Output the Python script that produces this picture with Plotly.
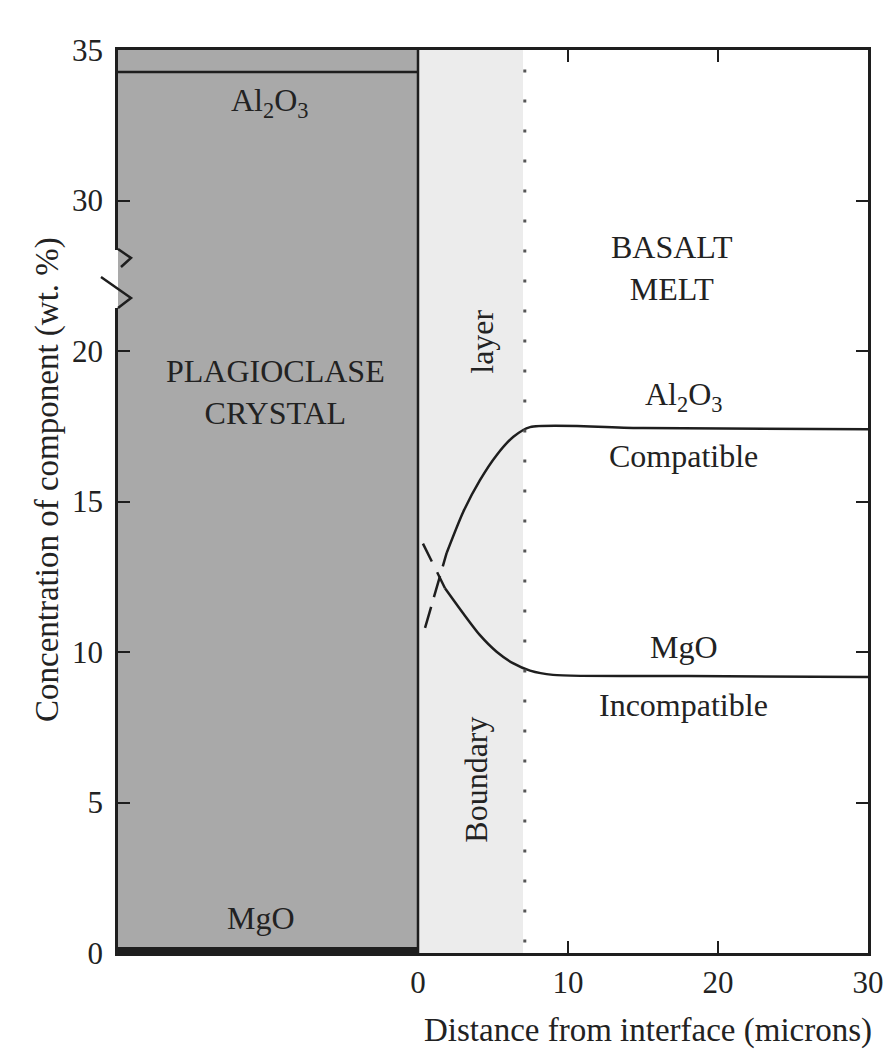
import plotly.graph_objects as go

# ---------------- data (real wt.% units) ----------------
x_tick_vals = [0, 10, 20, 30]
y_tick_real = [0, 5, 10, 15, 20, 30, 35]
y_tick_text = ["0", "5", "10", "15", "20", "30", "35"]

crystal_x = [-20, 0]
crystal_al2o3 = [34.27, 34.27]
crystal_mgo = [0.08, 0.08]

melt_al2o3_x = [1.91, 3.02, 4.13, 5.24, 6.36, 7.47, 15, 30]
melt_al2o3_y = [13.29, 14.66, 15.71, 16.54, 17.15, 17.47, 17.44, 17.4]
melt_mgo_x = [1.8, 3.02, 4.13, 5.24, 6.36, 7.47, 9.0, 18, 30]
melt_mgo_y = [12.12, 11.28, 10.56, 10.01, 9.62, 9.38, 9.24, 9.2, 9.17]

dash_al2o3_x = [0.47, 1.91]
dash_al2o3_y = [10.8, 13.29]
dash_mgo_x = [0.33, 1.8]
dash_mgo_y = [13.6, 12.12]

boundary_layer = [0, 7.0]
y_top = 35


# broken axis: values 20..30 are squeezed into 5 display units
def disp(v):
    return v if v <= 25 else v - 5


def dl(vals):
    return [disp(v) for v in vals]


FONT = "Liberation Serif"
INK = "#222222"
LINE = "#1e1e1e"
GRAY = "#a9a9a9"

fig = go.Figure()

# crystal and boundary-layer shading
fig.add_shape(type="rect", x0=crystal_x[0], x1=crystal_x[1], y0=0, y1=disp(y_top),
              fillcolor=GRAY, line_width=0, layer="below")
fig.add_shape(type="rect", x0=boundary_layer[0], x1=boundary_layer[1], y0=0, y1=disp(y_top),
              fillcolor="#ececec", line_width=0, layer="below")
# dotted edge of boundary layer
fig.add_shape(type="line", x0=boundary_layer[1] + 0.12, x1=boundary_layer[1] + 0.12,
              y0=0.35, y1=disp(y_top) - 0.3,
              line=dict(color="#555555", width=3, dash="3px,27px"))

# crystal composition lines
fig.add_trace(go.Scatter(x=crystal_x, y=dl(crystal_al2o3), mode="lines",
                         line=dict(color=LINE, width=2.5), showlegend=False))
fig.add_trace(go.Scatter(x=crystal_x, y=dl(crystal_mgo), mode="lines",
                         line=dict(color=LINE, width=7), showlegend=False))

# melt profiles
fig.add_trace(go.Scatter(x=melt_al2o3_x, y=dl(melt_al2o3_y), mode="lines",
                         line=dict(color=LINE, width=2.5, shape="spline", smoothing=0.7),
                         showlegend=False))
fig.add_trace(go.Scatter(x=melt_mgo_x, y=dl(melt_mgo_y), mode="lines",
                         line=dict(color=LINE, width=2.5, shape="spline", smoothing=0.7),
                         showlegend=False))
fig.add_trace(go.Scatter(x=dash_al2o3_x, y=dl(dash_al2o3_y), mode="lines",
                         line=dict(color=LINE, width=2.5, dash="22px,10px"), showlegend=False))
fig.add_trace(go.Scatter(x=dash_mgo_x, y=dl(dash_mgo_y), mode="lines",
                         line=dict(color=LINE, width=2.5, dash="20px,12px"), showlegend=False))

# interface line
fig.add_shape(type="line", x0=0, x1=0, y0=0, y1=disp(y_top),
              line=dict(color=LINE, width=2.5))

# ---- axis break on the left axis (paper coordinates from pixel layout) ----
L, R, T, B = 118, 868, 50, 953


def px(xp):
    return (xp - L) / (R - L)


def py(yp):
    return (B - yp) / (B - T)


fig.add_shape(type="rect", xref="paper", yref="paper", x0=px(112), x1=px(118),
              y0=py(308), y1=py(250), fillcolor="white", line_width=0, layer="above")
fig.add_shape(type="rect", xref="paper", yref="paper", x0=px(118), x1=px(124),
              y0=py(308), y1=py(250), fillcolor=GRAY, line_width=0, layer="above")
fig.add_shape(type="path", xref="paper", yref="paper",
              path=f"M {px(118)} {py(249)} L {px(131)} {py(258)} L {px(121)} {py(267)}",
              line=dict(color=LINE, width=2.5), layer="above")
fig.add_shape(type="path", xref="paper", yref="paper",
              path=f"M {px(101)} {py(277)} L {px(131)} {py(298)} L {px(118)} {py(308)}",
              line=dict(color=LINE, width=2.5), layer="above")


# ---------------- annotations ----------------
def ann(text, x, y, size=32, angle=0, xref="x", yref="y"):
    fig.add_annotation(text=text, x=x, y=y, xref=xref, yref=yref, showarrow=False,
                       textangle=angle, font=dict(family=FONT, size=size, color=INK),
                       xanchor="center", yanchor="middle", align="center")


ann("Al<sub>2</sub>O<sub>3</sub>", -9.9, 28.25)
ann("PLAGIOCLASE<br>CRYSTAL", -9.5, 18.65)
ann("MgO", -10.5, 1.15)
ann("layer", 4.25, 20.3, angle=-90)
ann("Boundary", 3.85, 5.75, angle=-90)
ann("BASALT<br>MELT", 16.9, 22.75)
ann("Al<sub>2</sub>O<sub>3</sub>", 17.7, 18.5)
ann("Compatible", 17.7, 16.5)
ann("MgO", 17.7, 10.17)
ann("Incompatible", 17.7, 8.24)

# axis titles
ann("Distance from interface (microns)", px(648), py(1030), size=33,
    xref="paper", yref="paper")
ann("Concentration of component (wt. %)", px(47), py(480), size=33, angle=-90,
    xref="paper", yref="paper")

fig.update_xaxes(range=[-20, 30], tickvals=x_tick_vals, ticks="inside", ticklen=12,
                 tickwidth=2, tickcolor=LINE, showline=True, linecolor=LINE, linewidth=2.5,
                 mirror="ticks", showgrid=False, zeroline=False, automargin=False,
                 tickfont=dict(family=FONT, size=31, color=INK))
fig.update_yaxes(range=[0, disp(y_top)], tickvals=dl(y_tick_real), ticktext=y_tick_text,
                 ticks="inside", ticklen=12, tickwidth=2, tickcolor=LINE,
                 showline=True, linecolor=LINE, linewidth=2.5, mirror="ticks",
                 showgrid=False, zeroline=False, ticklabelstandoff=6, automargin=False,
                 tickfont=dict(family=FONT, size=31, color=INK))

fig.update_layout(width=886, height=1052, autosize=False,
                  margin=dict(l=L, r=886 - R, t=T, b=1052 - B, pad=0),
                  paper_bgcolor="white", plot_bgcolor="white", showlegend=False,
                  font=dict(family=FONT, color=INK))

fig.write_html("out.html")
